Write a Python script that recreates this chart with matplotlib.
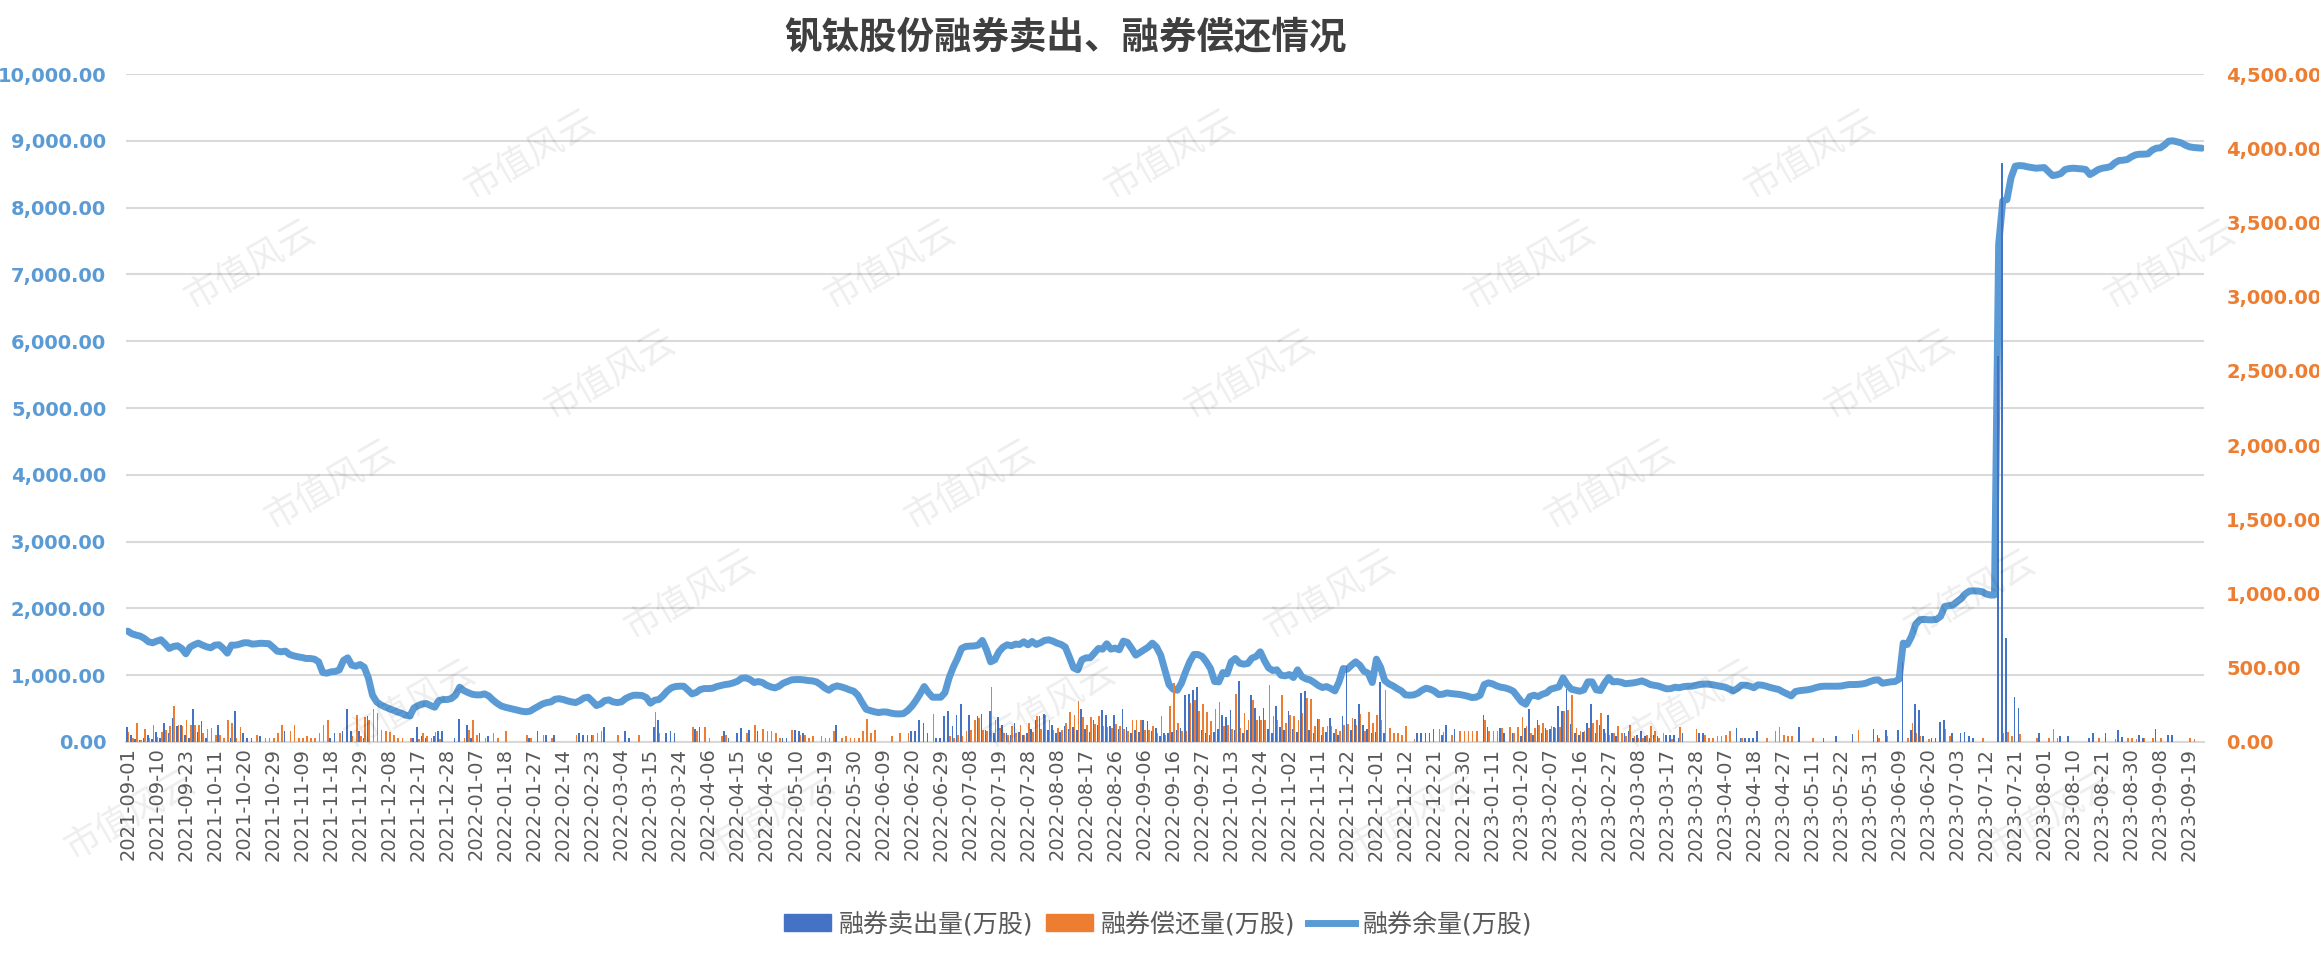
import numpy as np
import matplotlib
matplotlib.use("Agg")
import matplotlib.pyplot as plt
from matplotlib.ticker import FuncFormatter, MultipleLocator
from matplotlib.lines import Line2D
from matplotlib.patches import Patch

plt.rcParams['font.family'] = ['DejaVu Sans', 'Noto Sans CJK SC']

# === chart data (万股), one value per trading day ===
title = "钒钛股份融券卖出、融券偿还情况"
series_names = ["融券卖出量(万股)", "融券偿还量(万股)", "融券余量(万股)"]

# every 7th trading day is labelled on the axis
tick_dates = [
    "2021-09-01", "2021-09-10", "2021-09-23", "2021-10-11", "2021-10-20", "2021-10-29",
    "2021-11-09", "2021-11-18", "2021-11-29", "2021-12-08", "2021-12-17", "2021-12-28",
    "2022-01-07", "2022-01-18", "2022-01-27", "2022-02-14", "2022-02-23", "2022-03-04",
    "2022-03-15", "2022-03-24", "2022-04-06", "2022-04-15", "2022-04-26", "2022-05-10",
    "2022-05-19", "2022-05-30", "2022-06-09", "2022-06-20", "2022-06-29", "2022-07-08",
    "2022-07-19", "2022-07-28", "2022-08-08", "2022-08-17", "2022-08-26", "2022-09-06",
    "2022-09-16", "2022-09-27", "2022-10-13", "2022-10-24", "2022-11-02", "2022-11-11",
    "2022-11-22", "2022-12-01", "2022-12-12", "2022-12-21", "2022-12-30", "2023-01-11",
    "2023-01-20", "2023-02-07", "2023-02-16", "2023-02-27", "2023-03-08", "2023-03-17",
    "2023-03-28", "2023-04-07", "2023-04-18", "2023-04-27", "2023-05-11", "2023-05-22",
    "2023-05-31", "2023-06-09", "2023-06-20", "2023-07-03", "2023-07-12", "2023-07-21",
    "2023-08-01", "2023-08-10", "2023-08-21", "2023-08-30", "2023-09-08", "2023-09-19",
]

# 融券余量 (left axis)
balance = [
    1660, 1620, 1600, 1585, 1550, 1500, 1485,
    1510, 1530, 1470, 1400, 1430, 1440, 1400,
    1320, 1420, 1455, 1480, 1450, 1425, 1410,
    1450, 1455, 1400, 1330, 1450, 1450, 1465,
    1485, 1485, 1465, 1470, 1478, 1475, 1472,
    1420, 1360, 1350, 1360, 1310, 1290, 1275,
    1265, 1250, 1250, 1240, 1200, 1040, 1030,
    1050, 1055, 1080, 1220, 1260, 1150, 1135,
    1160, 1120, 960, 700, 600, 555, 525,
    500, 475, 450, 430, 400, 390, 510,
    545, 570, 575, 545, 520, 620, 635,
    635, 650, 700, 820, 770, 740, 715,
    705, 705, 720, 690, 630, 580, 540,
    520, 505, 490, 475, 460, 452, 462,
    500, 535, 570, 590, 600, 640, 648,
    635, 615, 600, 590, 620, 660, 670,
    610, 545, 570, 620, 630, 600, 590,
    600, 650, 680, 700, 700, 695, 665,
    580, 625, 635, 690, 760, 810, 830,
    835, 835, 780, 720, 740, 785, 800,
    800, 805, 830, 845, 860, 868, 885,
    910, 955, 960, 935, 890, 905, 890,
    850, 825, 810, 835, 880, 905, 930,
    935, 935, 930, 920, 915, 900, 860,
    810, 775, 820, 840, 825, 805, 780,
    760, 700, 590, 490, 470, 452, 440,
    450, 448, 432, 422, 420, 425, 470,
    535, 620, 720, 830, 740, 670, 670,
    670, 740, 960, 1120, 1250, 1400, 1430,
    1435, 1438, 1450, 1520, 1380, 1200, 1230,
    1350, 1420, 1455, 1440, 1465, 1460, 1500,
    1455, 1505, 1460, 1485, 1520, 1530, 1510,
    1480, 1460, 1420, 1270, 1110, 1080, 1230,
    1260, 1260, 1330, 1400, 1390, 1470, 1390,
    1405, 1380, 1510, 1490, 1400, 1300, 1340,
    1380, 1420, 1480, 1420, 1300, 1080, 860,
    790, 775, 880, 1050, 1200, 1310, 1310,
    1280, 1200, 1100, 905, 900, 1040, 1020,
    1200, 1250, 1180, 1165, 1175, 1255, 1280,
    1350, 1220, 1110, 1070, 1080, 1000, 990,
    1010, 965, 1080, 980, 945, 930, 890,
    845, 815, 830, 800, 765, 900, 1100,
    1090, 1150, 1200, 1150, 1060, 1030, 890,
    1240, 1120, 920, 870, 840, 800, 765,
    705, 700, 705, 730, 775, 805, 790,
    760, 710, 715, 735, 725, 718, 712,
    700, 685, 665, 670, 700, 860, 885,
    870, 840, 820, 810, 790, 760, 680,
    600, 565, 680, 700, 680, 715, 735,
    790, 808, 825, 960, 860, 790, 775,
    760, 780, 900, 900, 780, 770, 880,
    965, 900, 905, 895, 872, 878, 885,
    898, 915, 890, 860, 848, 838, 815,
    795, 800, 820, 812, 828, 835, 835,
    848, 860, 868, 866, 858, 845, 832,
    822, 795, 765, 800, 850, 850, 835,
    812, 855, 850, 835, 815, 800, 785,
    750, 720, 690, 755, 768, 775, 782,
    795, 815, 830, 835, 835, 835, 835,
    838, 850, 860, 860, 862, 868, 880,
    905, 925, 930, 880, 890, 900, 905,
    940, 1480, 1460, 1580, 1760, 1830, 1835,
    1830, 1828, 1835, 1880, 2030, 2040, 2050,
    2100, 2150, 2220, 2260, 2262, 2260, 2250,
    2215, 2200, 2200, 7450, 8100, 8120, 8450,
    8620, 8630, 8625, 8610, 8600, 8590, 8595,
    8600, 8540, 8480, 8490, 8510, 8570, 8585,
    8590, 8585, 8580, 8570, 8495, 8530, 8570,
    8590, 8600, 8615, 8670, 8705, 8710, 8720,
    8760, 8790, 8800, 8800, 8805, 8860, 8890,
    8895, 8940, 8995, 9000, 8985, 8970, 8935,
    8910, 8900, 8895, 8890,
]

# 融券卖出量 (right axis)
sell = [
    100, 50, 20, 15, 30, 50, 20,
    70, 30, 128, 60, 160, 105, 115,
    50, 30, 225, 70, 140, 30, 0,
    0, 117, 0, 0, 30, 211, 0,
    60, 25, 25, 0, 43, 0, 0,
    0, 0, 0, 75, 0, 0, 0,
    0, 0, 0, 0, 0, 0, 0,
    25, 60, 0, 72, 225, 72, 0,
    72, 30, 173, 0, 0, 0, 0,
    0, 0, 0, 0, 0, 0, 25,
    99, 40, 30, 0, 40, 72, 72,
    0, 0, 30, 157, 0, 117, 30,
    0, 60, 0, 38, 0, 0, 0,
    0, 0, 0, 0, 0, 0, 30,
    0, 72, 0, 50, 0, 50, 0,
    0, 0, 0, 0, 60, 50, 50,
    50, 0, 0, 99, 0, 0, 0,
    0, 72, 30, 0, 0, 0, 0,
    0, 99, 145, 0, 60, 72, 60,
    0, 0, 0, 0, 90, 99, 0,
    0, 0, 0, 0, 77, 30, 0,
    60, 95, 0, 83, 0, 77, 0,
    0, 0, 0, 0, 30, 30, 0,
    83, 72, 60, 0, 0, 0, 0,
    0, 0, 0, 117, 0, 0, 0,
    0, 0, 0, 0, 0, 0, 0,
    0, 0, 0, 0, 0, 0, 0,
    72, 72, 145, 128, 60, 0, 30,
    30, 173, 211, 106, 185, 256, 0,
    185, 0, 173, 189, 80, 211, 60,
    166, 117, 60, 50, 128, 70, 50,
    60, 90, 150, 173, 189, 80, 117,
    60, 70, 106, 90, 100, 80, 225,
    90, 70, 150, 117, 218, 185, 110,
    185, 90, 225, 100, 60, 80, 70,
    145, 140, 72, 95, 40, 60, 60,
    70, 80, 95, 315, 324, 353, 369,
    80, 60, 50, 70, 90, 185, 166,
    218, 80, 409, 60, 80, 315, 230,
    173, 230, 90, 60, 240, 100, 80,
    211, 90, 70, 331, 342, 80, 60,
    157, 50, 70, 162, 60, 50, 173,
    511, 80, 157, 256, 117, 90, 60,
    70, 405, 60, 0, 0, 0, 0,
    0, 0, 0, 60, 60, 60, 60,
    90, 0, 50, 117, 0, 90, 0,
    0, 0, 0, 0, 0, 185, 99,
    0, 0, 95, 60, 0, 60, 0,
    40, 95, 225, 50, 145, 60, 95,
    90, 99, 240, 211, 360, 120, 60,
    50, 70, 128, 256, 60, 117, 90,
    185, 60, 40, 0, 60, 72, 30,
    50, 72, 40, 30, 50, 40, 0,
    50, 50, 50, 30, 60, 0, 0,
    0, 60, 60, 0, 0, 0, 0,
    0, 0, 0, 95, 25, 25, 25,
    30, 72, 0, 0, 0, 0, 0,
    0, 0, 0, 0, 99, 0, 0,
    0, 0, 0, 30, 0, 0, 40,
    0, 0, 0, 56, 0, 0, 0,
    0, 89, 50, 0, 78, 0, 0,
    78, 540, 0, 80, 257, 218, 40,
    0, 30, 30, 134, 145, 0, 60,
    0, 60, 70, 40, 25, 0, 0,
    0, 0, 0, 2600, 3899, 700, 0,
    302, 229, 0, 0, 0, 0, 60,
    0, 0, 0, 0, 40, 0, 40,
    0, 0, 0, 0, 30, 61, 0,
    0, 61, 0, 0, 78, 35, 0,
    0, 0, 50, 25, 0, 0, 89,
    0, 0, 50, 50, 0, 0, 0,
    0, 0, 0, 0,
]

# 融券偿还量 (right axis)
repay = [
    70, 30, 130, 15, 85, 30, 115,
    35, 70, 80, 105, 240, 115, 105,
    145, 115, 115, 115, 60, 90, 95,
    50, 50, 30, 145, 128, 30, 99,
    0, 0, 0, 45, 0, 30, 30,
    30, 60, 117, 0, 72, 117, 30,
    25, 43, 25, 25, 60, 117, 145,
    0, 0, 60, 0, 0, 40, 185,
    40, 166, 145, 225, 196, 83, 77,
    68, 50, 30, 30, 0, 30, 0,
    20, 60, 40, 30, 68, 20, 0,
    0, 0, 0, 0, 30, 83, 145,
    50, 0, 27, 0, 60, 27, 0,
    77, 0, 0, 0, 0, 50, 30,
    0, 0, 50, 0, 30, 0, 0,
    0, 0, 0, 50, 0, 0, 0,
    50, 60, 72, 0, 0, 0, 50,
    0, 0, 0, 0, 50, 0, 0,
    0, 202, 60, 0, 0, 0, 0,
    0, 0, 0, 99, 72, 0, 99,
    25, 0, 0, 38, 50, 0, 0,
    0, 0, 60, 0, 117, 0, 90,
    72, 72, 60, 25, 0, 0, 83,
    0, 50, 50, 30, 38, 0, 38,
    25, 25, 72, 0, 25, 38, 25,
    25, 25, 72, 157, 60, 83, 0,
    0, 0, 38, 0, 60, 0, 60,
    0, 0, 0, 0, 0, 189, 0,
    0, 0, 38, 30, 50, 40, 72,
    83, 145, 160, 83, 77, 369, 145,
    95, 60, 50, 106, 60, 117, 50,
    128, 70, 173, 90, 185, 150, 80,
    95, 83, 128, 202, 185, 279, 166,
    117, 166, 120, 173, 106, 100, 95,
    120, 106, 90, 72, 145, 145, 145,
    80, 83, 106, 60, 173, 50, 240,
    398, 128, 72, 72, 263, 280, 211,
    256, 202, 140, 225, 270, 105, 117,
    90, 324, 95, 196, 150, 286, 145,
    145, 145, 382, 173, 145, 315, 128,
    185, 173, 145, 196, 297, 292, 106,
    157, 99, 106, 106, 90, 72, 117,
    120, 162, 117, 189, 77, 202, 128,
    185, 145, 353, 95, 60, 60, 50,
    106, 0, 20, 0, 0, 0, 0,
    0, 90, 68, 0, 50, 0, 72,
    72, 72, 72, 72, 0, 145, 77,
    72, 72, 95, 0, 99, 60, 99,
    166, 106, 60, 95, 117, 128, 80,
    106, 95, 100, 211, 218, 315, 95,
    72, 72, 95, 130, 145, 196, 60,
    50, 60, 106, 60, 40, 117, 40,
    30, 30, 50, 106, 72, 30, 60,
    0, 20, 0, 99, 0, 0, 0,
    90, 0, 50, 30, 30, 38, 38,
    50, 72, 0, 0, 25, 0, 0,
    0, 0, 0, 30, 0, 72, 99,
    50, 38, 38, 0, 0, 0, 0,
    30, 0, 0, 0, 0, 0, 0,
    0, 0, 0, 0, 78, 0, 0,
    0, 0, 30, 0, 40, 0, 0,
    0, 0, 30, 126, 60, 40, 0,
    20, 0, 0, 0, 90, 40, 0,
    0, 0, 0, 0, 0, 0, 30,
    0, 0, 0, 0, 61, 70, 40,
    0, 56, 0, 0, 0, 25, 0,
    0, 25, 89, 30, 0, 0, 0,
    0, 0, 0, 0, 0, 0, 25,
    0, 0, 0, 20, 0, 0, 25,
    25, 20, 0, 25, 0, 25, 0,
    30, 0, 0, 0, 0, 0, 0,
    30, 20, 0, 0,
]

# === colours ===
c_sell = '#4472C4'
c_repay = '#ED7D31'
c_line = '#5B9BD5'
c_text = '#595959'
c_grid = '#D9D9D9'

x = np.arange(len(balance))

W, H = 2319, 959
fig = plt.figure(figsize=(W / 100, H / 100), dpi=100)
ax = fig.add_axes([0.0542, 0.2263, 0.8962, 0.6965])
ax2 = ax.twinx()

# balance line on the left axis, bars on the right axis (drawn on top)
ax.plot(x, balance, color=c_line, lw=5, solid_joinstyle='round', solid_capstyle='round')
ax2.bar(x - 0.2, sell, width=0.4, color=c_sell, linewidth=0)
ax2.bar(x + 0.2, repay, width=0.4, color=c_repay, linewidth=0)

ax.set_xlim(-0.5, len(x) - 0.5)
ax.set_ylim(0, 10000)
ax2.set_ylim(0, 4500)
ax.yaxis.set_major_locator(MultipleLocator(1000))
ax2.yaxis.set_major_locator(MultipleLocator(500))
money = FuncFormatter(lambda v, p: f"{v:,.2f}")
ax.yaxis.set_major_formatter(money)
ax2.yaxis.set_major_formatter(money)

ax.grid(axis='y', color=c_grid, lw=1.5)
ax.set_axisbelow(True)
for a in (ax, ax2):
    for s in a.spines.values():
        s.set_visible(False)
ax.spines['bottom'].set_visible(True)
ax.spines['bottom'].set_color(c_grid)
ax.spines['bottom'].set_linewidth(1.5)

ax.set_xticks(x[::7])
ax.set_xticklabels(tick_dates, rotation=90, fontsize=14, color=c_text)
ax.tick_params(axis='x', length=0, pad=4)
ax.tick_params(axis='y', length=0, pad=14, labelsize=14, labelcolor=c_line)
ax2.tick_params(axis='y', length=0, pad=16, labelsize=14, labelcolor=c_repay)
for lab in ax.get_yticklabels() + ax2.get_yticklabels():
    lab.set_fontweight('bold')

# title
fig.text(1065 / W, 0.961, title, fontsize=27, fontweight='bold', color='#3F3F3F',
         ha='center', va='center', family=['Noto Sans CJK SC', 'DejaVu Sans'])

# legend
handles = [Patch(color=c_sell), Patch(color=c_repay), Line2D([], [], color=c_line, lw=5)]
fig.legend(handles, series_names, loc='center', bbox_to_anchor=(1158 / W, 1 - 924 / H), ncol=3,
           frameon=False, fontsize=18, labelcolor=c_text, handlelength=1.9,
           handleheight=0.7, handletextpad=0.3, columnspacing=0.5)

# watermark, kept inside the canvas
for r in range(0, 9):
    for c in range(-1, 7):
        wx = 170 + c * 640 + (r % 2) * 320 + r * 40
        wy = 45 + r * 110
        if 100 < wx < W - 100 and 50 < wy < H - 50:
            fig.text(wx / W, 1 - wy / H, "市值风云", fontsize=26, color='#000000',
                     alpha=0.07, rotation=30, ha='center', va='center',
                     family=['Noto Sans CJK SC'], zorder=10)

fig.savefig('out.png', dpi=100)
